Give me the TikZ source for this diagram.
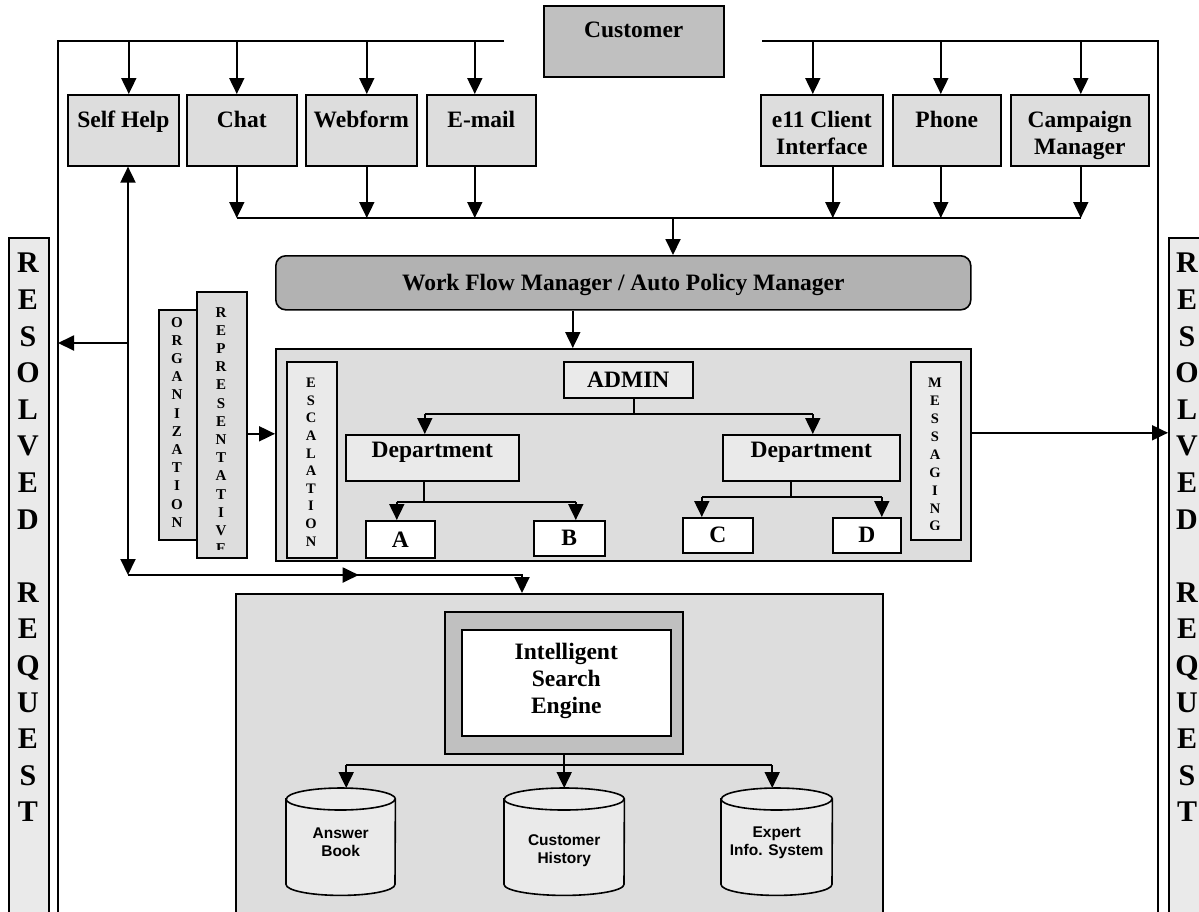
\documentclass[tikz,border=0pt]{standalone}
\usepackage{fontspec}
\setmainfont{Liberation Serif}
\newfontfamily\drumfont{Liberation Sans}
\usetikzlibrary{arrows.meta,decorations.markings}

\definecolor{chanfill}{HTML}{DDDDDD}
\definecolor{custfill}{HTML}{C0C0C0}
\definecolor{wfmfill}{HTML}{B2B2B2}
\definecolor{panelfill}{HTML}{DDDDDD}
\definecolor{innerfill}{HTML}{EAEAEA}
\definecolor{isefill}{HTML}{C0C0C0}

% database drum drawn over an empty node: #1 node name, #2 half width
\newcommand\dbdrum[2]{%
  \draw[boxline,fill=innerfill] ([yshift=-11pt]#1.north west) -- ([yshift=11pt]#1.south west)
    arc[start angle=180,end angle=360,x radius=#2,y radius=11]
    -- ([yshift=-11pt]#1.north east)
    arc[start angle=0,end angle=180,x radius=#2,y radius=11] -- cycle;
  \draw[boxline] ([yshift=-11pt]#1.north west)
    arc[start angle=180,end angle=360,x radius=#2,y radius=11];
}

\tikzset{
  line/.style={line width=1.9pt},
  boxline/.style={line width=1.6pt},
  tip/.tip={Triangle[length=16pt,width=15pt]},
  arr/.style={line width=1.9pt,-tip},
  dblarr/.style={line width=1.9pt,tip-tip},
  midarrow/.style={postaction={decorate},
    decoration={markings,mark=at position #1 with {\arrow{tip}}}},
  box/.style={draw,line width=1.6pt,inner sep=0pt,anchor=north west},
  lbl/.style={font=\fontsize{23.5}{27}\selectfont\bfseries,align=center,inner sep=0pt},
  stack/.style={font=\fontsize{15}{18}\selectfont\bfseries,align=center,inner sep=0pt,anchor=north},
  bigstack/.style={font=\fontsize{30}{36.6}\selectfont\bfseries,align=center,inner sep=0pt,anchor=north},
  drumlbl/.style={font=\drumfont\fontsize{15.5}{18}\selectfont\bfseries,align=center,inner sep=0pt},
  drumbox/.style={anchor=north west,inner sep=0pt,minimum height=107},
}

\begin{document}
\begin{tikzpicture}[x=1pt,y=1pt]
\useasboundingbox (0,0) rectangle (1199,-911);
\clip (0,0) rectangle (1199,-911);

% ---------- outer rails and top distribution bus ----------
\coordinate (railL) at (58,-41);
\coordinate (railR) at (1158,-41);
\coordinate (busLend) at (504,-41);
\coordinate (busRstart) at (762,-41);
\coordinate (railLbot) at (58,-930);
\coordinate (railRbot) at (1158,-930);
\draw[line] (busLend) -- (railL) -- (railLbot);
\draw[line] (busRstart) -- (railR) -- (railRbot);

% ---------- customer ----------
\node[box,fill=custfill,minimum width=180,minimum height=71] (cust) at (543,-5) {};
\node[lbl,anchor=north] at ([yshift=-17pt]cust.north) {Customer};

% ---------- contact channels ----------
\node[box,fill=chanfill,minimum width=111,minimum height=71] (self)  at (67,-94) {};
\node[box,fill=chanfill,minimum width=110,minimum height=71] (chat)  at (186,-94) {};
\node[box,fill=chanfill,minimum width=111,minimum height=71] (web)   at (305,-94) {};
\node[box,fill=chanfill,minimum width=109,minimum height=71] (mail)  at (426,-94) {};
\node[box,fill=chanfill,minimum width=122,minimum height=71] (e11)   at (760,-94) {};
\node[box,fill=chanfill,minimum width=108,minimum height=71] (phone) at (892,-94) {};
\node[box,fill=chanfill,minimum width=138,minimum height=71] (camp)  at (1010,-94) {};

\node[lbl,anchor=north] at ([yshift=-17pt]self.north)  {Self Help};
\node[lbl,anchor=north] at ([yshift=-17pt]chat.north)  {Chat};
\node[lbl,anchor=north] at ([yshift=-17pt]web.north)   {Webform};
\node[lbl,anchor=north] at ([yshift=-17pt]mail.north)  {E-mail};
\node[lbl,anchor=north] at ([yshift=-17pt]e11.north)   {e11 Client\\Interface};
\node[lbl,anchor=north] at ([yshift=-17pt]phone.north) {Phone};
\node[lbl,anchor=north] at ([yshift=-17pt]camp.north)  {Campaign\\Manager};

\foreach \n/\s in {self/5.5,chat/-5,web/5.5,mail/-6.5,e11/-9,phone/-6,camp/1}
  \draw[arr] ([xshift=\s pt]\n.north |- railL) -- ([xshift=\s pt]\n.north);

% ---------- merge bus into the work flow manager ----------
\coordinate (merge) at (673,-218);
\foreach \n/\s in {chat/-5,web/5.5,mail/-6.5,e11/11,phone/-6,camp/1}
  \draw[arr] ([xshift=\s pt]\n.south) -- ([xshift=\s pt]\n.south |- merge);
\draw[line] ([xshift=-5pt]chat.south |- merge) -- ([xshift=1pt]camp.south |- merge);

\node[box,rounded corners=10pt,fill=wfmfill,minimum width=695,minimum height=54] (wfm) at (275,-255) {};
\node[lbl] at ([yshift=-2pt]wfm.center) {Work Flow Manager / Auto Policy Manager};
\draw[arr] (merge) -- (merge |- wfm.north);

% ---------- resolved request columns ----------
\node[box,fill=innerfill,minimum width=40,minimum height=700] (resL) at (8,-237) {};
\node[box,fill=innerfill,minimum width=42,minimum height=700] (resR) at (1168,-237) {};
\node[bigstack] at (28,-253) {R\\E\\S\\O\\L\\V\\E\\D\\[36.6pt]R\\E\\Q\\U\\E\\S\\T};
\node[bigstack] at (1187,-253) {R\\E\\S\\O\\L\\V\\E\\D\\[36.6pt]R\\E\\Q\\U\\E\\S\\T};

% ---------- organization / representative ----------
\node[box,fill=chanfill,minimum width=38,minimum height=230] (org) at (158,-309) {};
\node[box,fill=chanfill,minimum width=50,minimum height=266] (rep) at (196,-291) {};
\node[stack,font=\fontsize{15}{18.2}\selectfont\bfseries] at (177,-317) {O\\R\\G\\A\\N\\I\\Z\\A\\T\\I\\O\\N};
\begin{scope}
  \clip (rep.north west) rectangle ([yshift=9pt]rep.south east);
  \node[stack,font=\fontsize{15}{18.2}\selectfont\bfseries] at (221,-307) {R\\E\\P\\R\\E\\S\\E\\N\\T\\A\\T\\I\\V\\E};
\end{scope}

% ---------- routing panel ----------
\node[box,fill=panelfill,minimum width=695,minimum height=212] (cc) at (275,-348) {};
\draw[arr] ([xshift=-50.5pt]wfm.south) -- ([xshift=-50.5pt]wfm.south |- cc.north);

\node[box,fill=innerfill,minimum width=50,minimum height=196] (esc) at (286,-361) {};
\node[box,fill=innerfill,minimum width=50,minimum height=178] (msg) at (910,-361) {};
\begin{scope}
  \clip (esc.north west) rectangle ([yshift=9pt]esc.south east);
  \node[stack,font=\fontsize{14.5}{17.6}\selectfont\bfseries] at (311,-378) {E\\S\\C\\A\\L\\A\\T\\I\\O\\N};
\end{scope}
\begin{scope}
  \clip (msg.north west) rectangle ([yshift=11pt]msg.south east);
  \node[stack,font=\fontsize{14.5}{17.9}\selectfont\bfseries] at (935,-378) {M\\E\\S\\S\\A\\G\\I\\N\\G};
\end{scope}

\node[box,fill=innerfill,minimum width=129,minimum height=36] (adm) at (563,-361) {};
\node[lbl] at (adm.center) {ADMIN};
\node[box,fill=innerfill,minimum width=173,minimum height=46] (dl) at (345,-434) {};
\node[box,fill=innerfill,minimum width=177,minimum height=46] (dr) at (722,-434) {};
\node[lbl,anchor=base] at ([yshift=-23pt]dl.north) {Department};
\node[lbl,anchor=base] at ([yshift=-23pt]dr.north) {Department};

\node[box,fill=white,minimum width=69,minimum height=37] (qa) at (365,-520) {};
\node[box,fill=white,minimum width=71,minimum height=35] (qb) at (533,-520) {};
\node[box,fill=white,minimum width=70,minimum height=35] (qc) at (682,-517) {};
\node[box,fill=white,minimum width=68,minimum height=35] (qd) at (832,-517) {};
\node[lbl] at (qa.center) {A};
\node[lbl] at (qb.center) {B};
\node[lbl] at (qc.center) {C};
\node[lbl] at (qd.center) {D};

% admin to departments
\coordinate (admbus) at (634,-414);
\draw[line] (admbus |- adm.south) -- (admbus);
\draw[line] ([xshift=-7.5pt]dl.north |- admbus) -- ([xshift=1.5pt]dr.north |- admbus);
\draw[arr] ([xshift=-7.5pt]dl.north |- admbus) -- ([xshift=-7.5pt]dl.north);
\draw[arr] ([xshift=1.5pt]dr.north |- admbus) -- ([xshift=1.5pt]dr.north);

% departments to queues
\coordinate (abbus) at (424,-502);
\draw[line] (abbus |- dl.south) -- (abbus);
\draw[line] ([xshift=-3.5pt]qa.north |- abbus) -- ([xshift=6.5pt]qb.north |- abbus);
\draw[arr] ([xshift=-3.5pt]qa.north |- abbus) -- ([xshift=-3.5pt]qa.north);
\draw[arr] ([xshift=6.5pt]qb.north |- abbus) -- ([xshift=6.5pt]qb.north);

\coordinate (cdbus) at (791,-497);
\draw[line] (cdbus |- dr.south) -- (cdbus);
\draw[line] ([xshift=-16pt]qc.north |- cdbus) -- ([xshift=15pt]qd.north |- cdbus);
\draw[arr] ([xshift=-16pt]qc.north |- cdbus) -- ([xshift=-16pt]qc.north);
\draw[arr] ([xshift=15pt]qd.north |- cdbus) -- ([xshift=15pt]qd.north);

% panel side links
\draw[arr] ([yshift=-9pt]rep.east) -- ([yshift=-9pt]rep.east -| cc.west);
\draw[arr] ([yshift=22pt]cc.east) -- ([yshift=22pt]cc.east -| resR.west);

% ---------- knowledge base ----------
\node[box,fill=panelfill,minimum width=647,minimum height=340] (kb) at (235,-593) {};
\node[box,fill=isefill,minimum width=238,minimum height=142] (iseo) at (444,-611) {};
\node[box,fill=white,minimum width=209,minimum height=106] (isei) at (461,-629) {};
\node[lbl] at ([yshift=2pt]isei.center) {Intelligent\\Search\\Engine};

\node[drumbox,minimum width=109] (ab) at (286,-788) {};
\node[drumbox,minimum width=120] (ch) at (504,-788) {};
\node[drumbox,minimum width=111] (ex) at (721,-788) {};
\dbdrum{ab}{54.5}
\dbdrum{ch}{60}
\dbdrum{ex}{55.5}
\node[drumlbl] at ([yshift=-1pt]ab.center) {Answer\\Book};
\node[drumlbl] at ([yshift=-9pt]ch.center) {Customer\\History};
\node[drumlbl] at ([yshift=-1pt]ex.center) {Expert\\Info. System};

\coordinate (isebus) at (564,-765);
\draw[line] (iseo.south) -- (iseo.south |- isebus);
\draw[line] ([xshift=5.5pt]ab.north |- isebus) -- ([xshift=-4.5pt]ex.north |- isebus);
\draw[arr] ([xshift=5.5pt]ab.north |- isebus) -- ([xshift=5.5pt]ab.north);
\draw[arr] (ch.north |- isebus) -- (ch.north);
\draw[arr] ([xshift=-4.5pt]ex.north |- isebus) -- ([xshift=-4.5pt]ex.north);

% ---------- self help loop ----------
\coordinate (loopStart) at (128,-575);
\coordinate (loopTurn) at (522,-575);
\coordinate (resJ) at (128,-343);
\draw[dblarr] (self.south -| loopStart) -- (loopStart);
\draw[arr] (resJ) -- (resJ -| railL);
\draw[arr,midarrow=0.56] (loopStart) -- (loopTurn) -- (loopTurn |- kb.north);

\end{tikzpicture}
\end{document}
